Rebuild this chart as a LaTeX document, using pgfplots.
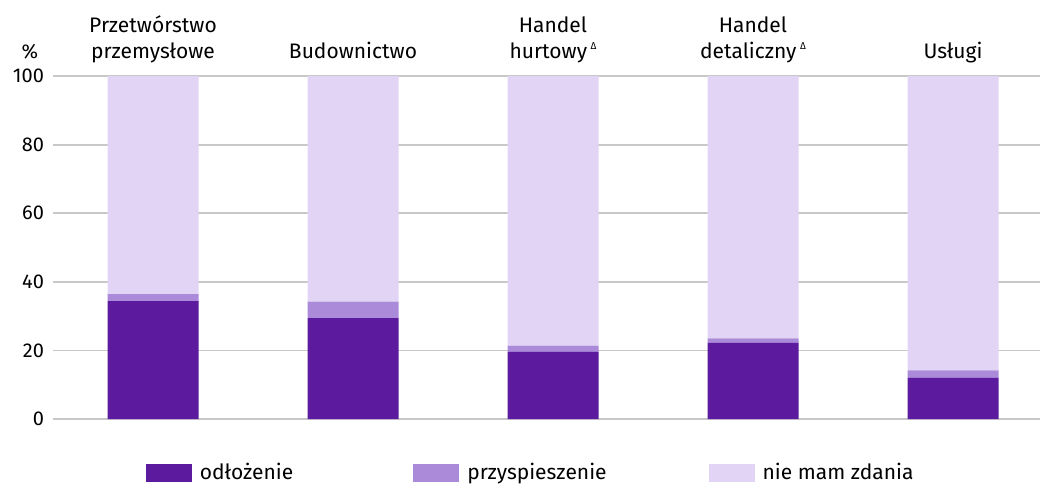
\documentclass[border=0pt]{standalone}
\usepackage{pgfplots}
\pgfplotsset{compat=1.18}
\usepackage{fontspec}
\setmainfont{Fira Sans}
\definecolor{cdark}{RGB}{92,26,158}
\definecolor{cmid}{RGB}{171,138,217}
\definecolor{clight}{RGB}{226,212,245}
\definecolor{cgrid}{RGB}{200,200,200}
\newcommand{\tri}{\,\raisebox{0.75ex}{\fontsize{5}{5}\selectfont Δ}}
\begin{document}
\begin{tikzpicture}
\begin{axis}[
  scale only axis,
  width=493.5pt, height=171.5pt,
  xmin=-0.5, xmax=4.435,
  ymin=0, ymax=100,
  ybar stacked,
  bar width=0.455,
  axis line style={draw=none},
  ytick={0,20,40,60,80,100},
  xtick=\empty,
  ymajorgrids,
  grid style={cgrid, line width=0.9pt},
  major tick length=0pt,
  tick label style={font=\fontsize{10}{12}\selectfont},
  /pgf/number format/assume math mode=true,
  yticklabel style={xshift=-1pt},
  clip=false,
  legend columns=3,
  legend style={draw=none, at={(0.485,-0.157)}, anchor=center,
    font=\fontsize{10.5}{12}\selectfont,
    /tikz/column 1/.style={column sep=2pt},
    /tikz/column 3/.style={column sep=2pt},
    /tikz/column 5/.style={column sep=2pt},
    /tikz/column 2/.style={column sep=58pt},
    /tikz/column 4/.style={column sep=49pt}},
  legend image code/.code={\fill[#1] (0pt,-4.5pt) rectangle (23pt,4.5pt);},
]
\addplot+[fill=cdark, draw=none] coordinates {(0,34.4) (1,29.4) (2,19.6) (3,22.2) (4,12.0)};
\addplot+[fill=cmid, draw=none] coordinates {(0,2.0) (1,4.8) (2,1.8) (3,1.3) (4,2.2)};
\addplot+[fill=clight, draw=none] coordinates {(0,63.6) (1,65.8) (2,78.6) (3,76.5) (4,85.8)};
\legend{odłożenie, przyspieszenie, nie mam zdania}
\node[anchor=base, font=\fontsize{10.5}{12}\selectfont] at (axis cs:0,100) [yshift=22pt] {Przetwórstwo};
\node[anchor=base, font=\fontsize{10.5}{12}\selectfont] at (axis cs:0,100) [yshift=9pt] {przemysłowe};
\node[anchor=base, font=\fontsize{10.5}{12}\selectfont] at (axis cs:1,100) [yshift=9pt] {Budownictwo};
\node[anchor=base, font=\fontsize{10.5}{12}\selectfont] at (axis cs:2,100) [yshift=22pt] {Handel};
\node[anchor=base, font=\fontsize{10.5}{12}\selectfont] at (axis cs:2,100) [yshift=9pt] {hurtowy\tri};
\node[anchor=base, font=\fontsize{10.5}{12}\selectfont] at (axis cs:3,100) [yshift=22pt] {Handel};
\node[anchor=base, font=\fontsize{10.5}{12}\selectfont] at (axis cs:3,100) [yshift=9pt] {detaliczny\tri};
\node[anchor=base, font=\fontsize{10.5}{12}\selectfont] at (axis cs:4,100) [yshift=9pt] {Usługi};
\node[anchor=base, font=\fontsize{10}{12}\selectfont] at (rel axis cs:0,1) [xshift=-11.5pt, yshift=9pt] {\%};
\end{axis}
\pgfresetboundingbox
\path (-26.5pt,-32.5pt) rectangle (493.5pt,209.5pt);
\end{tikzpicture}
\end{document}
